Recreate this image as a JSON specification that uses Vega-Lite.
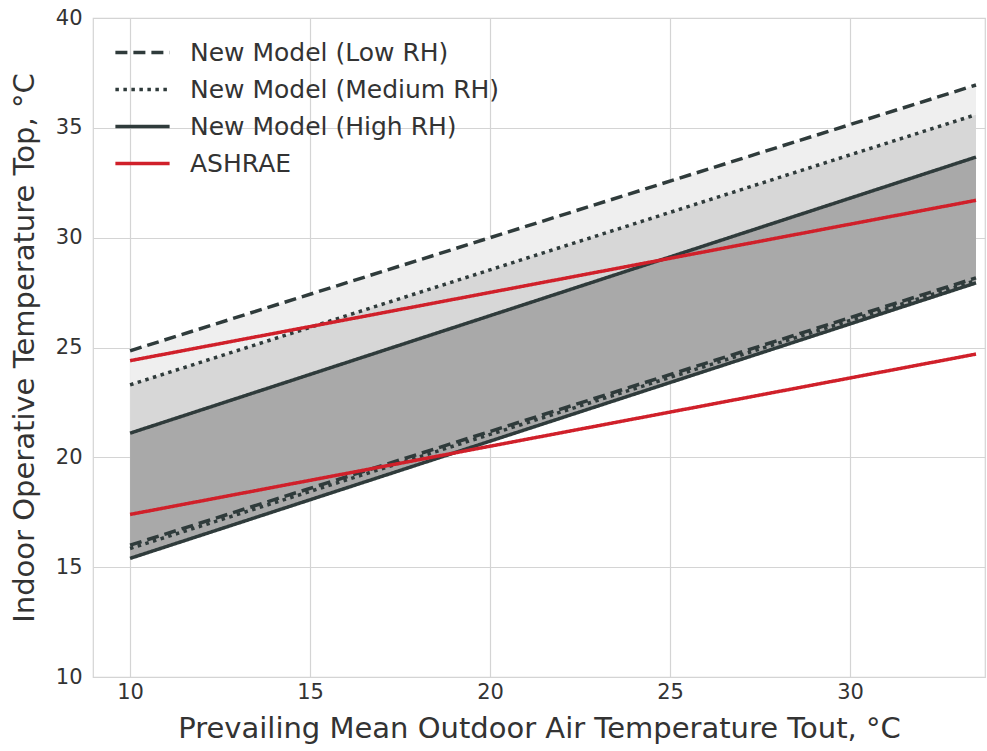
{
  "$schema": "https://vega.github.io/schema/vega-lite/v6.json",
  "width": 892,
  "height": 659,
  "autosize": "none",
  "padding": {"left": 93, "top": 18, "right": 2, "bottom": 74},
  "background": "white",
  "config": {
    "font": "DejaVu Sans",
    "view": {"stroke": "#d4d4d4", "strokeWidth": 1.2},
    "axis": {
      "domain": false, "ticks": false, "grid": true, "gridColor": "#d4d4d4", "gridWidth": 1.2,
      "labelFont": "DejaVu Sans", "labelFontSize": 21, "labelColor": "#333333",
      "titleFont": "DejaVu Sans", "titleFontSize": 29, "titleFontWeight": "normal", "titleColor": "#333333"
    }
  },
  "datasets": {
    "bands": [
      {"model": "Low", "x": 10, "lo": 16.0, "hi": 24.85},
      {"model": "Low", "x": 33.5, "lo": 28.17, "hi": 36.95},
      {"model": "Medium", "x": 10, "lo": 15.85, "hi": 23.3},
      {"model": "Medium", "x": 33.5, "lo": 28.05, "hi": 35.6},
      {"model": "High", "x": 10, "lo": 15.4, "hi": 21.1},
      {"model": "High", "x": 33.5, "lo": 27.94, "hi": 33.67}
    ],
    "lines": [
      {"series": "New Model (Low RH)", "bound": "upper", "x": 10, "y": 24.85},
      {"series": "New Model (Low RH)", "bound": "upper", "x": 33.5, "y": 36.95},
      {"series": "New Model (Low RH)", "bound": "lower", "x": 10, "y": 16.0},
      {"series": "New Model (Low RH)", "bound": "lower", "x": 33.5, "y": 28.17},
      {"series": "New Model (Medium RH)", "bound": "upper", "x": 10, "y": 23.3},
      {"series": "New Model (Medium RH)", "bound": "upper", "x": 33.5, "y": 35.6},
      {"series": "New Model (Medium RH)", "bound": "lower", "x": 10, "y": 15.85},
      {"series": "New Model (Medium RH)", "bound": "lower", "x": 33.5, "y": 28.05},
      {"series": "New Model (High RH)", "bound": "upper", "x": 10, "y": 21.1},
      {"series": "New Model (High RH)", "bound": "upper", "x": 33.5, "y": 33.67},
      {"series": "New Model (High RH)", "bound": "lower", "x": 10, "y": 15.4},
      {"series": "New Model (High RH)", "bound": "lower", "x": 33.5, "y": 27.94},
      {"series": "ASHRAE", "bound": "upper", "x": 10, "y": 24.4},
      {"series": "ASHRAE", "bound": "upper", "x": 33.5, "y": 31.7},
      {"series": "ASHRAE", "bound": "lower", "x": 10, "y": 17.4},
      {"series": "ASHRAE", "bound": "lower", "x": 33.5, "y": 24.7}
    ]
  },
  "layer": [
    {
      "data": {"name": "bands"},
      "transform": [{"filter": "datum.model == 'Low'"}],
      "mark": {"type": "area", "color": "#efefef", "opacity": 1},
      "encoding": {
        "x": {"field": "x", "type": "quantitative", "scale": {"domain": [8.97, 33.75], "nice": false, "zero": false},
              "axis": {"values": [10, 15, 20, 25, 30], "title": "Prevailing Mean Outdoor Air Temperature Tout, °C", "labelPadding": 4, "titlePadding": 12}},
        "y": {"field": "lo", "type": "quantitative", "scale": {"domain": [10, 40], "nice": false, "zero": false},
              "axis": {"values": [10, 15, 20, 25, 30, 35, 40], "title": "Indoor Operative Temperature Top, °C", "labelPadding": 11, "titlePadding": 16}},
        "y2": {"field": "hi"}
      }
    },
    {
      "data": {"name": "bands"},
      "transform": [{"filter": "datum.model == 'Medium'"}],
      "mark": {"type": "area", "color": "#d7d7d7", "opacity": 1},
      "encoding": {
        "x": {"field": "x", "type": "quantitative"},
        "y": {"field": "lo", "type": "quantitative"},
        "y2": {"field": "hi"}
      }
    },
    {
      "data": {"name": "bands"},
      "transform": [{"filter": "datum.model == 'High'"}],
      "mark": {"type": "area", "color": "#a9a9a9", "opacity": 1},
      "encoding": {
        "x": {"field": "x", "type": "quantitative"},
        "y": {"field": "lo", "type": "quantitative"},
        "y2": {"field": "hi"}
      }
    },
    {
      "data": {"name": "lines"},
      "mark": {"type": "line", "strokeWidth": 3.5, "strokeCap": "butt"},
      "encoding": {
        "x": {"field": "x", "type": "quantitative"},
        "y": {"field": "y", "type": "quantitative"},
        "detail": {"field": "bound"},
        "color": {
          "field": "series", "type": "nominal",
          "scale": {
            "domain": ["New Model (Low RH)", "New Model (Medium RH)", "New Model (High RH)", "ASHRAE"],
            "range": ["#2f3b3b", "#2f3b3b", "#2f3b3b", "#d0202a"]
          },
          "legend": {
            "title": null, "orient": "none", "legendX": 28, "legendY": 13,
            "symbolType": "M-1.4,0H1.4", "symbolSize": 1500, "symbolStrokeWidth": 3.5,
            "labelFontSize": 25, "labelColor": "#333333", "labelOffset": 26, "rowPadding": 2, "labelLimit": 0,
            "padding": 0, "symbolOffset": 0
          }
        },
        "strokeDash": {
          "field": "series", "type": "nominal",
          "scale": {
            "domain": ["New Model (Low RH)", "New Model (Medium RH)", "New Model (High RH)", "ASHRAE"],
            "range": [[12, 6], [3.5, 4.5], [1, 0], [1, 0]]
          },
          "legend": {
            "title": null, "orient": "none", "legendX": 28, "legendY": 13,
            "symbolType": "M-1.4,0H1.4", "symbolSize": 1500, "symbolStrokeWidth": 3.5,
            "labelFontSize": 25, "labelColor": "#333333", "labelOffset": 26, "rowPadding": 2, "labelLimit": 0,
            "padding": 0, "symbolOffset": 0
          }
        }
      }
    }
  ]
}
